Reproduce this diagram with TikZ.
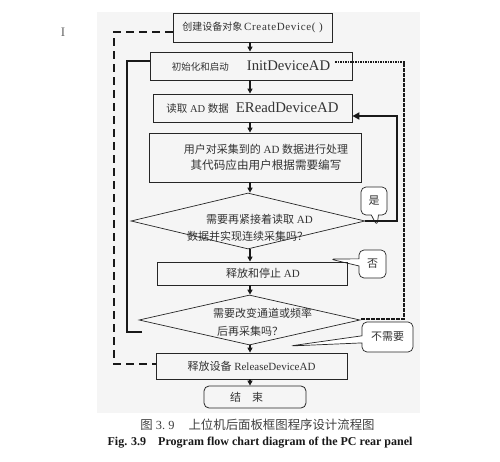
\documentclass[tikz,border=0pt]{standalone}
\usepackage{fontspec}
\setmainfont{Liberation Serif}
\newfontfamily\cjk{Noto Sans CJK SC}
\usetikzlibrary{arrows.meta,shapes.geometric,shapes.callouts,calc}
\newcommand{\fs}[1]{\fontsize{#1}{#1}\selectfont}
\begin{document}
\begin{tikzpicture}[x=1pt,y=-1pt,
 box/.style={draw=black!85, line width=0.8pt, inner sep=0pt, text=black!80, align=center},
 dia/.style={diamond, draw=black!85, line width=0.7pt, inner sep=0pt},
 lbl/.style={inner sep=0pt, text=black!80, align=left},
 arr/.style={-{Triangle[length=5pt,width=5pt]}, line width=1.3pt, draw=black!90},
 boldline/.style={line width=2.2pt, draw=black!90},
 dashedline/.style={line width=1.8pt, draw=black!90, dash pattern=on 8pt off 5pt},
 dottedline/.style={line width=2.4pt, draw=black!90, dash pattern=on 1.6pt off 0.9pt},
 callbox/.style={rectangle callout, draw=black!85, fill=white, line width=0.7pt, rounded corners=5pt, inner sep=0pt, text=black!80},
 font=\fs{11}]

\useasboundingbox (0,0) rectangle (500,462);
\fill[white] (0,0) rectangle (500,462);
\fill[black!4] (97,12) rectangle (420,413);

\node[text=black!60, font=\fs{13}] (cur) at (63,32) {I};

% callouts (drawn first so lines pass over them)
\node[callbox, minimum width=26pt, minimum height=28pt, callout absolute pointer={(377,226)}] (yes) at (374,201) {\cjk 是};
\node[callbox, minimum width=27pt, minimum height=28pt, callout absolute pointer={(330,259)}] (no) at (372.5,264) {\cjk 否};
\node[callbox, minimum width=51pt, minimum height=30pt, callout absolute pointer={(290,346)}] (noneed) at (387.5,337) {\cjk 不需要};

% boxes
\node[box, minimum width=159pt, minimum height=29pt] (b1) at (252.5,27.5)
  {{\cjk\fs{10}创建设备对象}\,{\fs{11}\addfontfeature{LetterSpace=6}CreateDevice(~)}};
\node[box, minimum width=202pt, minimum height=28pt] (b2) at (251,66)
  {{\cjk\fs{9.5}初始化和启动}\hspace{18pt}{\fs{14.7}InitDeviceAD}};
\node[box, minimum width=199pt, minimum height=28pt] (b3) at (252.5,108)
  {{\fs{10.5}{\cjk 读取} AD {\cjk 数据}}\hspace{7pt}{\fs{14.8}EReadDeviceAD}};
\node[box, minimum width=212pt, minimum height=49pt] (b4) at (255,157.5)
  {\hspace*{22pt}{\cjk 用户对采集到的} AD {\cjk 数据进行处理}\\[5pt]\hspace*{22pt}{\cjk\fs{11.6}其代码应由用户根据需要编写}};
\node[dia, minimum width=234pt, minimum height=56pt] (d1) at (248,221) {};
\node[lbl, anchor=west] (d1t) at (187,227.5)
  {\hspace*{19pt}{\cjk 需要再紧接着读取} AD\\[6pt]{\cjk 数据并实现连续采集吗？}};
\node[box, minimum width=190pt, minimum height=23pt] (b6) at (252,273.5)
  {\hspace*{22pt}{\cjk 释放和停止} AD};
\node[dia, minimum width=221pt, minimum height=50pt] (d2) at (249.5,320) {};
\node[lbl, anchor=west] (d2t) at (213,322)
  {{\cjk 需要改变通道或频率}\\[7pt]\hspace*{4pt}{\cjk 后再采集吗？}};
\node[box, minimum width=191pt, minimum height=26pt] (b8) at (251.5,366)
  {{\cjk 释放设备} ReleaseDeviceAD};
\node[box, rounded corners=5pt, minimum width=102pt, minimum height=22pt] (end) at (255,397)
  {{\cjk 结\hspace{11pt}束}\hspace*{17pt}};

% main arrows
\coordinate (ax) at (250,0);
\draw[arr] (b1.south -| ax) -- (b2.north -| ax);
\draw[arr] (b2.south -| ax) -- (b3.north -| ax);
\draw[arr] (b3.south -| ax) -- (b4.north -| ax);
\draw[arr] (b4.south -| ax) -- (d1.north -| ax);
\draw[arr] (d1.south -| ax) -- (b6.north -| ax);
\draw[arr] (b6.south -| ax) -- (d2.north -| ax);
\draw[arr] (d2.south -| ax) -- (b8.north -| ax);
\draw[arr] (b8.south -| ax) -- (end.north -| ax);

% dashed loop (left)
\coordinate (dl1) at (114,32);
\coordinate (dl2) at (114,364);
\draw[dashedline] (b1.west |- dl1) -- (dl1) -- (dl2) -- (b8.west |- dl2);

% bold loop (left)
\coordinate (bl1) at (127,61);
\coordinate (bl2) at (127,332);
\coordinate (bl3) at (142,332);
\draw[boldline] (bl3) -- (bl2) -- (bl1) -- (b2.west |- bl1);

% bold return (right)
\coordinate (br1) at (397,221);
\coordinate (br2) at (397,116);
\draw[boldline, -{Triangle[length=7pt,width=7pt]}] (d1.east) -- (br1) -- (br2) -- (b3.east |- br2);

% dotted loop (right)
\coordinate (dt0) at (335,62);
\coordinate (dt1) at (404,62);
\coordinate (dt2) at (404,319);
\draw[dottedline] (dt0) -- (dt1) -- (dt2) -- (d2.east |- dt2);

% caption
\node[lbl, text=black!75, font=\fs{12.4}] (cap1) at (257.5,425)
  {{\cjk 图}~3.~9\hspace{14pt}{\cjk 上位机后面板框图程序设计流程图}};
\node[lbl, text=black!90, font=\bfseries\fs{12}] (cap2) at (260,443)
  {Fig. 3.9\hspace{12pt}Program flow chart diagram of the PC rear panel};
\end{tikzpicture}
\end{document}
